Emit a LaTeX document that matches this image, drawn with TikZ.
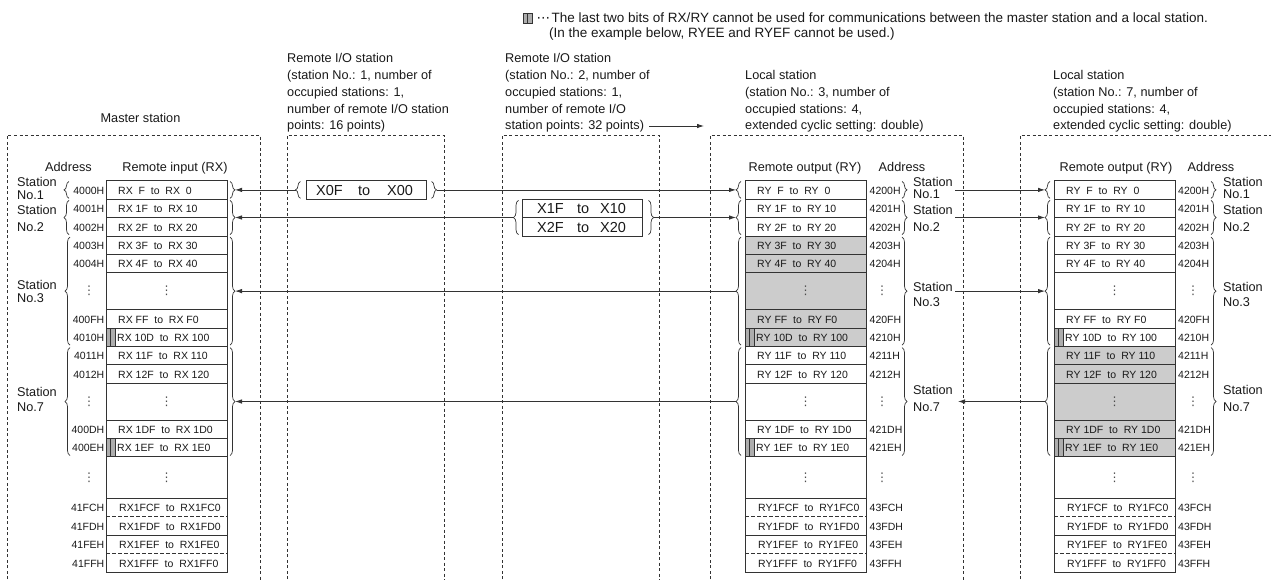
\documentclass[tikz,border=0pt]{standalone}
\usepackage{fontspec}
\setmainfont{Liberation Sans}
\newfontfamily\dejavu{DejaVu Sans}
\usetikzlibrary{arrows.meta,decorations.pathreplacing}

\definecolor{ln}{gray}{0.2}
\definecolor{shadegray}{gray}{0.8}
\definecolor{mark}{gray}{0.68}

\tikzset{
 cell/.style={draw=ln, line width=0.8pt},
 mk/.style={draw=ln, line width=0.5pt, fill=mark},
 dbox/.style={draw=ln, line width=0.7pt, dash pattern=on 3pt off 2.5pt},
 brc/.style={draw=ln, line width=0.7pt, decorate, decoration={brace, amplitude=5pt, aspect=0.5}},
 conn/.style={draw=ln, line width=0.8pt, -{Latex[length=7pt,width=4.5pt]}},
 txt/.style={inner sep=0pt, font=\fontsize{12.7}{16.7}\selectfont, text=black!90},
 lgd/.style={inner sep=0pt, font=\fontsize{13.5}{15}\selectfont, text=black!90},
 celltxt/.style={inner sep=0pt, font=\fontsize{10.5}{12}\selectfont, anchor=base west, text=black!90},
 addrtxt/.style={inner sep=0pt, font=\fontsize{10.5}{12}\selectfont, text=black!90},
 dots/.style={inner sep=0pt, font=\dejavu\fontsize{12}{12}\selectfont, text=black!70},
 xtxt/.style={inner sep=0pt, font=\fontsize{14.5}{16}\selectfont, anchor=base west, text=black!90},
}

% memory column: #1 left x, #2 letter X/Y, #3 name prefix
\newcommand{\memcol}[3]{%
 \draw[cell] (#1,180.7) rectangle (#1+121,571.9);
 \foreach \yy in {199.1,217.5,235.9,254.3,272.7,309.5,327.9,346.3,364.7,383.1,419.9,438.3,456.7,498.3,535.1}
   {\draw[cell] (#1,\yy) -- (#1+121,\yy);}
 \foreach \yy in {516.7,553.5}
   {\draw[cell,dash pattern=on 3.5pt off 2.5pt] (#1,\yy) -- (#1+121,\yy);}
 \foreach \tp in {327.9,438.3}
   {\draw[mk] (#1,\tp) rectangle (#1+4.5,\tp+18.4);
    \draw[mk] (#1+4.5,\tp) rectangle (#1+9,\tp+18.4);}
 \foreach \kk/\yy/\dx/\tx in {
   0/189.9/12/{R#2\ \ F\ \ to\ \ R#2\ \ 0},
   1/208.3/12/{R#2 1F\ \ to\ \ R#2 10},
   2/226.7/12/{R#2 2F\ \ to\ \ R#2 20},
   3/245.1/12/{R#2 3F\ \ to\ \ R#2 30},
   4/263.5/12/{R#2 4F\ \ to\ \ R#2 40},
   7/318.7/12/{R#2 FF\ \ to\ \ R#2 F0},
   8/337.1/11/{R#2 10D\ \ to\ \ R#2 100},
   9/355.5/12/{R#2 11F\ \ to\ \ R#2 110},
   10/373.9/12/{R#2 12F\ \ to\ \ R#2 120},
   13/429.1/12/{R#2 1DF\ \ to\ \ R#2 1D0},
   14/447.5/11/{R#2 1EF\ \ to\ \ R#2 1E0},
   15/507.5/13/{R#21FCF\ \ to\ \ R#21FC0},
   16/525.9/13/{R#21FDF\ \ to\ \ R#21FD0},
   17/544.3/13/{R#21FEF\ \ to\ \ R#21FE0},
   18/562.7/13/{R#21FFF\ \ to\ \ R#21FF0}}
 {\node[celltxt] (#3d\kk) at (#1+\dx,\yy+4.3) {\tx};}
 \node[dots] (#3v1) at (#1+60.5,291.1) {⋮};
 \node[dots] (#3v2) at (#1+60.5,401.5) {⋮};
 \node[dots] (#3v3) at (#1+60.5,477.5) {⋮};
}

% braces: tip left / tip right. #1 x of brace line, #2 top, #3 bottom, #4 tip name
\newcommand{\bracL}[4]{%
 \draw[brc] (#1,#3) -- (#1,#2);
 \coordinate (#4) at (#1-5,{(#2+#3)/2});}
\newcommand{\bracR}[4]{%
 \draw[brc] (#1,#2) -- (#1,#3);
 \coordinate (#4) at (#1+5,{(#2+#3)/2});}

% station label: #1 name, #2 x, #3 baseline 1, #4 baseline 2, #5 number
\newcommand{\stlbl}[5]{%
 \node[txt, anchor=base west] (#1a) at (#2,#3) {Station};
 \node[txt, anchor=base west] (#1b) at (#2,#4) {No.#5};}

\begin{document}
\begin{tikzpicture}[x=1pt,y=-1pt]
\clip (0,0) rectangle (1271,579);

% ---------- legend ----------
\draw[mk] (523,13) rectangle (527.5,23.5);
\draw[mk] (527.5,13) rectangle (532,23.5);
\node[lgd, anchor=base west] (lg1) at (536.5,22.8) {{\dejavu ⋯}\hspace{1.5pt}The last two bits of RX/RY cannot be used for communications between the master station and a local station.};
\node[lgd, anchor=base west] (lg2) at (549,37.8) {(In the example below, RYEE and RYEF cannot be used.)};

% ---------- headers ----------
\node[txt, anchor=base] (hM) at (140.5,122.6) {Master station};
\node[txt, anchor=base west] (hR1) at (287,62.9) {\begin{tabular}[t]{@{}l@{}}Remote I/O station\\(station No.: 1, number of\\occupied stations: 1,\\number of remote I/O station\\points: 16 points)\end{tabular}};
\node[txt, anchor=base west] (hR2) at (505,62.9) {\begin{tabular}[t]{@{}l@{}}Remote I/O station\\(station No.: 2, number of\\occupied stations: 1,\\number of remote I/O\\station points: 32 points)\end{tabular}};
\node[txt, anchor=base west] (hL3) at (745,79.6) {\begin{tabular}[t]{@{}l@{}}Local station\\(station No.: 3, number of\\occupied stations: 4,\\extended cyclic setting: double)\end{tabular}};
\node[txt, anchor=base west] (hL7) at (1053,79.6) {\begin{tabular}[t]{@{}l@{}}Local station\\(station No.: 7, number of\\occupied stations: 4,\\extended cyclic setting: double)\end{tabular}};
\coordinate (hA) at (649,126);
\coordinate (hB) at (704,126);
\draw[conn] (hA) -- (hB);

% ---------- dashed station frames ----------
\draw[dbox] (7,590) -- (7,135) -- (260,135) -- (260,590);
\draw[dbox] (287,590) -- (287,135) -- (444,135) -- (444,590);
\draw[dbox] (502,590) -- (502,135) -- (659,135) -- (659,590);
\draw[dbox] (710,590) -- (710,135) -- (963,135) -- (963,590);
\draw[dbox] (1020,590) -- (1020,135) -- (1273,135) -- (1273,590);

% ---------- column headers ----------
\node[txt, anchor=base] (mcA) at (68.5,171.2) {Address};
\node[txt, anchor=base] (mcR) at (175,171.2) {Remote input (RX)};
\node[txt, anchor=base] (acR) at (805,171.2) {Remote output (RY)};
\node[txt, anchor=base] (acA) at (902,171.2) {Address};
\node[txt, anchor=base] (bcR) at (1116,171.2) {Remote output (RY)};
\node[txt, anchor=base] (bcA) at (1211,171.2) {Address};

% ---------- shading ----------
\fill[shadegray] (745,235.9) rectangle (866,346.3);
\fill[shadegray] (1054,346.3) rectangle (1175,456.7);

% ---------- memory columns ----------
\memcol{106}{X}{m}
\memcol{745}{Y}{a}
\memcol{1054}{Y}{b}

% ---------- addresses ----------
\foreach \kk/\yy/\tx in {0/189.9/4000H, 1/208.3/4001H, 2/226.7/4002H, 3/245.1/4003H, 4/263.5/4004H, 7/318.7/400FH, 8/337.1/4010H, 9/355.5/4011H, 10/373.9/4012H, 13/429.1/400DH, 14/447.5/400EH, 15/507.5/41FCH, 16/525.9/41FDH, 17/544.3/41FEH, 18/562.7/41FFH}
 {\node[addrtxt, anchor=base east] (ma\kk) at (104.5,\yy+4.3) {\tx};}
\foreach \kk/\yy/\tx in {0/189.9/4200H, 1/208.3/4201H, 2/226.7/4202H, 3/245.1/4203H, 4/263.5/4204H, 7/318.7/420FH, 8/337.1/4210H, 9/355.5/4211H, 10/373.9/4212H, 13/429.1/421DH, 14/447.5/421EH, 15/507.5/43FCH, 16/525.9/43FDH, 17/544.3/43FEH, 18/562.7/43FFH}
 {\node[addrtxt, anchor=base west] (aa\kk) at (869.5,\yy+4.3) {\tx};
  \node[addrtxt, anchor=base west] (ba\kk) at (1178,\yy+4.3) {\tx};}
\foreach \nn/\yy in {1/291.1, 2/401.5, 3/477.5}
 {\node[dots] (mav\nn) at (89,\yy) {⋮};
  \node[dots] (aav\nn) at (882,\yy) {⋮};
  \node[dots] (bav\nn) at (1193,\yy) {⋮};}

% ---------- remote I/O boxes ----------
\draw[cell] (306,180.7) rectangle (426,199.1);
\node[xtxt] (x0f) at (316,195.3) {X0F};
\node[xtxt] (x0to) at (358,195.3) {to};
\node[xtxt] (x00) at (387,195.3) {X00};
\draw[cell] (522,199.1) rectangle (642,235.9);
\draw[cell] (522,217.5) -- (642,217.5);
\node[xtxt] (x1f) at (537,213.7) {X1F};
\node[xtxt] (x1to) at (577,213.7) {to};
\node[xtxt] (x10) at (600,213.7) {X10};
\node[xtxt] (x2f) at (537,232.1) {X2F};
\node[xtxt] (x2to) at (577,232.1) {to};
\node[xtxt] (x20) at (600,232.1) {X20};

% ---------- braces ----------
\bracL{69}{181.5}{198.3}{mL1}
\bracL{69}{200.3}{234.7}{mL2}
\bracL{70}{237.1}{345.1}{mL3}
\bracL{70}{347.5}{455.5}{mL7}
\bracR{230}{181.5}{198.3}{mR1}
\bracR{230}{200.3}{234.7}{mR2}
\bracR{230}{237.1}{345.1}{mR3}
\bracR{230}{347.5}{455.5}{mR7}
\bracL{300.5}{181.5}{198.3}{r1L}
\bracR{431.5}{181.5}{198.3}{r1R}
\bracL{518.5}{200.3}{234.7}{r2L}
\bracR{648.5}{200.3}{234.7}{r2R}
\bracL{741}{181.5}{198.3}{aL1}
\bracL{741}{200.3}{234.7}{aL2}
\bracL{741}{237.1}{345.1}{aL3}
\bracL{741}{347.5}{455.5}{aL7}
\bracR{902}{181.5}{198.3}{aR1}
\bracR{902}{200.3}{234.7}{aR2}
\bracR{902}{237.1}{345.1}{aR3}
\bracR{902}{347.5}{455.5}{aR7}
\bracL{1050}{181.5}{198.3}{bL1}
\bracL{1050}{200.3}{234.7}{bL2}
\bracL{1050}{237.1}{345.1}{bL3}
\bracL{1050}{347.5}{455.5}{bL7}
\bracR{1211}{181.5}{198.3}{bR1}
\bracR{1211}{200.3}{234.7}{bR2}
\bracR{1211}{237.1}{345.1}{bR3}
\bracR{1211}{347.5}{455.5}{bR7}

% ---------- station labels ----------
\stlbl{mS1}{17}{186.5}{199.5}{1}
\stlbl{mS2}{17}{214.5}{231}{2}
\stlbl{mS3}{17}{289.5}{302.5}{3}
\stlbl{mS7}{17}{396}{411}{7}
\stlbl{aS1}{913}{186.5}{198.5}{1}
\stlbl{aS2}{913}{214.5}{231.5}{2}
\stlbl{aS3}{913}{291.5}{306.5}{3}
\stlbl{aS7}{913}{394.5}{411.5}{7}
\stlbl{bS1}{1223}{186.5}{198.5}{1}
\stlbl{bS2}{1223}{214.5}{231.5}{2}
\stlbl{bS3}{1223}{291.5}{306.5}{3}
\stlbl{bS7}{1223}{394.5}{411.5}{7}

% ---------- connectors ----------
\draw[conn] (r1L) -- (mR1);
\draw[conn] (r1R) -- (aL1);
\draw[conn] (r2L) -- (mR2);
\draw[conn] (r2R) -- (aL2);
\draw[conn] (aL3) -- (mR3);
\draw[conn] (aL7) -- (mR7);
\coordinate (aO1) at (955,189.9);
\coordinate (aO2) at (955,217.5);
\coordinate (aO3) at (955,291.1);
\coordinate (aI7) at (958,401.5);
\draw[conn] (aO1) -- (bL1);
\draw[conn] (aO2) -- (bL2);
\draw[conn] (aO3) -- (bL3);
\draw[conn] (bL7) -- (aI7);
\end{tikzpicture}
\end{document}
